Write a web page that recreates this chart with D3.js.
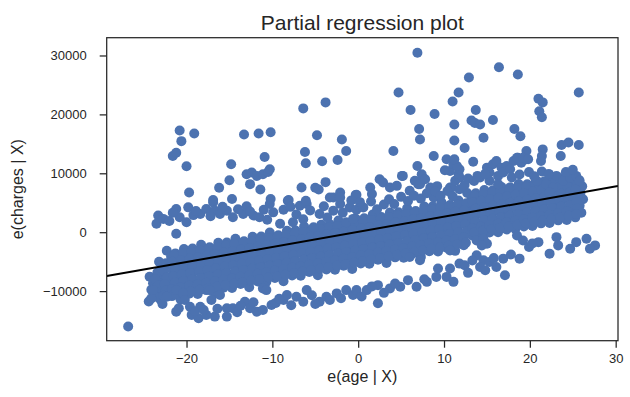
<!DOCTYPE html>
<html><head><meta charset="utf-8">
<script src="https://cdn.jsdelivr.net/npm/d3@7"></script>
<style>
html,body{margin:0;padding:0;background:#fff;}
svg{display:block;}
text{font-family:"Liberation Sans",Arial,sans-serif;fill:#262626;}
</style></head><body>
<svg id="chart" width="630" height="397"></svg>
<script>
// ---- data ----
const xTicks = [-20, -10, 0, 10, 20, 30];
const yTicks = [-10000, 0, 10000, 20000, 30000];
const xDomain = [-29.3, 30.27];
const yDomain = [-18420, 33020];
const fitX = [-29.3, 30.27];
const fitY = [-7450, 7830];

const mainBand = [
[-24.3,-7570],[-23.9,-8670],[-24.1,-9770],[-23.7,-10870],[-24.4,-11770],
[-23.2,-5010],[-22.8,-6210],[-23.1,-7310],[-22.7,-8510],[-23.4,-9610],[-22.9,-10710],[-23.0,-11510],
[-22.3,-3150],[-21.8,-4150],[-22.1,-5450],[-21.6,-6550],[-22.4,-7650],[-21.9,-8850],[-22.2,-9950],[-21.7,-10850],
[-21.3,-3600],[-20.8,-4800],[-21.1,-6100],[-20.6,-7200],[-21.4,-7700],[-20.9,-8400],[-21.2,-9500],[-20.7,-11400],
[-20.3,-2840],[-19.8,-3940],[-20.1,-5140],[-19.6,-6240],[-20.4,-7640],[-19.9,-8640],[-20.2,-9740],[-19.7,-10440],
[-19.3,-2780],[-18.8,-3980],[-19.1,-5180],[-18.6,-6280],[-19.4,-7480],[-18.9,-8580],[-19.2,-9680],[-18.7,-10480],
[-18.3,-2130],[-17.8,-3130],[-18.1,-4430],[-17.6,-5530],[-18.4,-6630],[-17.9,-7830],[-18.2,-8930],[-17.7,-9830],
[-17.3,-2570],[-16.8,-3770],[-17.1,-5070],[-16.6,-6170],[-17.4,-6670],[-16.9,-7370],[-17.2,-8470],[-16.7,-10370],
[-16.3,-1810],[-15.8,-2910],[-16.1,-4110],[-15.6,-5210],[-16.4,-6610],[-15.9,-7610],[-16.2,-8710],[-15.7,-9410],
[-15.3,-1760],[-14.8,-2960],[-15.1,-4160],[-14.6,-5260],[-15.4,-6460],[-14.9,-7560],[-15.2,-8660],[-14.7,-9460],
[-14.3,-1100],[-13.8,-2100],[-14.1,-3400],[-13.6,-4500],[-14.4,-5600],[-13.9,-6800],[-14.2,-7900],[-13.7,-8800],
[-13.3,-1540],[-12.8,-2740],[-13.1,-4040],[-12.6,-5140],[-13.4,-5640],[-12.9,-6340],[-13.2,-7440],[-12.7,-9340],
[-12.3,-780],[-11.8,-1880],[-12.1,-3080],[-11.6,-4180],[-12.4,-5580],[-11.9,-6580],[-12.2,-7680],[-11.7,-8380],
[-11.3,-730],[-10.8,-1930],[-11.1,-3130],[-10.6,-4230],[-11.4,-5430],[-10.9,-6530],[-11.2,-7630],[-10.7,-8430],
[-10.3,-70],[-9.8,-1070],[-10.1,-2370],[-9.6,-3470],[-10.4,-4570],[-9.9,-5770],[-10.2,-6870],[-9.7,-7770],
[-9.3,-510],[-8.8,-1710],[-9.1,-3010],[-8.6,-4110],[-9.4,-4610],[-8.9,-5310],[-9.2,-6410],[-8.7,-8310],
[-8.3,240],[-7.8,-860],[-8.1,-2060],[-7.6,-3160],[-8.4,-4560],[-7.9,-5560],[-8.2,-6660],[-7.7,-7360],
[-7.3,300],[-6.8,-900],[-7.1,-2100],[-6.6,-3200],[-7.4,-4400],[-6.9,-5500],[-7.2,-6600],[-6.7,-7400],
[-6.3,960],[-5.8,-40],[-6.1,-1340],[-5.6,-2440],[-6.4,-3540],[-5.9,-4740],[-6.2,-5840],[-5.7,-6740],
[-5.3,520],[-4.8,-690],[-5.1,-1990],[-4.6,-3090],[-5.4,-3590],[-4.9,-4290],[-5.2,-5390],[-4.7,-7290],
[-4.3,1270],[-3.8,170],[-4.1,-1030],[-3.6,-2130],[-4.4,-3530],[-3.9,-4530],[-4.2,-5630],[-3.7,-6330],
[-3.3,1330],[-2.8,130],[-3.1,-1070],[-2.6,-2170],[-3.4,-3370],[-2.9,-4470],[-3.2,-5570],[-2.7,-6370],
[-2.3,1990],[-1.8,990],[-2.1,-310],[-1.6,-1410],[-2.4,-2510],[-1.9,-3710],[-2.2,-4810],[-1.7,-5710],
[-1.3,1540],[-0.8,340],[-1.1,-960],[-0.6,-2060],[-1.4,-2560],[-0.9,-3260],[-1.2,-4360],[-0.7,-6260],
[-0.3,2300],[0.2,1200],[-0.1,0],[0.4,-1100],[-0.4,-2500],[0.1,-3500],[-0.2,-4600],[0.3,-5300],
[0.7,2360],[1.2,1160],[0.9,-40],[1.4,-1140],[0.6,-2340],[1.1,-3440],[0.8,-4540],[1.3,-5340],
[1.7,3010],[2.2,2010],[1.9,710],[2.4,-390],[1.6,-1490],[2.1,-2690],[1.8,-3790],[2.3,-4690],
[2.7,2570],[3.2,1370],[2.9,70],[3.4,-1030],[2.6,-1530],[3.1,-2230],[2.8,-3330],[3.3,-5230],
[3.7,3330],[4.2,2230],[3.9,1030],[4.4,-70],[3.6,-1470],[4.1,-2470],[3.8,-3570],[4.3,-4270],
[4.7,3390],[5.2,2190],[4.9,990],[5.4,-120],[4.6,-1320],[5.1,-2420],[4.8,-3520],[5.3,-4320],
[5.7,4040],[6.2,3040],[5.9,1740],[6.4,640],[5.6,-460],[6.1,-1660],[5.8,-2760],[6.3,-3660],
[6.7,3600],[7.2,2400],[6.9,1100],[7.4,0],[6.6,-500],[7.1,-1200],[6.8,-2300],[7.3,-4200],
[7.7,4360],[8.2,3260],[7.9,2060],[8.4,960],[7.6,-440],[8.1,-1440],[7.8,-2540],[8.3,-3240],
[8.7,4410],[9.2,3210],[8.9,2010],[9.4,910],[8.6,-290],[9.1,-1390],[8.8,-2490],[9.3,-3290],
[9.7,5070],[10.2,4070],[9.9,2770],[10.4,1670],[9.6,570],[10.1,-630],[9.8,-1730],[10.3,-2630],
[10.7,4630],[11.2,3430],[10.9,2130],[11.4,1030],[10.6,530],[11.1,-170],[10.8,-1270],[11.3,-3170],
[11.7,5380],[12.2,4280],[11.9,3080],[12.4,1980],[11.6,580],[12.1,-420],[11.8,-1520],[12.3,-2220],
[12.7,6640],[13.2,5540],[12.9,4540],[13.4,3440],[12.6,2340],[13.1,1340],[12.8,340],[13.3,-560],
[13.7,6600],[14.2,5400],[13.9,4300],[14.4,3200],[13.6,2100],[14.1,1100],[13.8,0],[14.3,-500],
[14.7,7160],[15.2,6060],[14.9,5060],[15.4,3960],[14.6,2860],[15.1,1860],[14.8,860],[15.3,-50],
[15.7,7110],[16.2,5910],[15.9,4810],[16.4,3710],[15.6,2610],[16.1,1610],[15.8,510],[16.3,10],
[16.7,7670],[17.2,6570],[16.9,5570],[17.4,4470],[16.6,3370],[17.1,2370],[16.8,1370],[17.3,470],
[17.7,7630],[18.2,6430],[17.9,5330],[18.4,4230],[17.6,3130],[18.1,2130],[17.8,1030],[18.3,530],
[18.7,8180],[19.2,7080],[18.9,6080],[19.4,4980],[18.6,3880],[19.1,2880],[18.8,1880],[19.3,980],
[19.7,8140],[20.2,6940],[19.9,5840],[20.4,4740],[19.6,3640],[20.1,2640],[19.8,1540],[20.3,1040],
[20.7,8700],[21.2,7600],[20.9,6600],[21.4,5500],[20.6,4400],[21.1,3400],[20.8,2400],[21.3,1500],
[21.7,8650],[22.2,7450],[21.9,6350],[22.4,5250],[21.6,4150],[22.1,3150],[21.8,2050],[22.3,1550],
[22.7,9210],[23.2,8110],[22.9,7110],[23.4,6010],[22.6,4910],[23.1,3910],[22.8,2910],[23.3,2010],
[23.7,9170],[24.2,7970],[23.9,6870],[24.4,5770],[23.6,4670],[24.1,3670],[23.8,2570],[24.3,2070],
[24.7,9000],[25.2,8620],[24.9,7620],[25.4,6520],[24.6,5420],[25.1,4420],[24.8,3420],[25.3,2520],
[25.7,8900],[26.1,7800],[25.9,6700],[26.2,5600],[25.8,4500],[26.0,3300]
];

const mainFill = [
[-23.4,-6840],[-23.65,-7940],[-23.3,-9040],[-23.55,-10140],[-23.35,-11040],
[-22.4,-5280],[-22.65,-6580],[-22.3,-7680],[-22.55,-8780],[-22.35,-9880],[-22.7,-10780],
[-21.4,-3830],[-21.65,-5030],[-21.3,-6330],[-21.55,-7430],[-21.35,-8530],[-21.7,-9630],[-21.45,-10530],
[-20.4,-3570],[-20.65,-4770],[-20.3,-6070],[-20.55,-7170],[-20.35,-8270],[-20.7,-9370],[-20.45,-10270],
[-19.4,-3310],[-19.65,-4510],[-19.3,-5810],[-19.55,-6910],[-19.35,-8010],[-19.7,-9110],[-19.45,-10010],
[-18.4,-3060],[-18.65,-4260],[-18.3,-5560],[-18.55,-6660],[-18.35,-7760],[-18.7,-8860],[-18.45,-9760],
[-17.4,-2800],[-17.65,-4000],[-17.3,-5300],[-17.55,-6400],[-17.35,-7500],[-17.7,-8600],[-17.45,-9500],
[-16.4,-2540],[-16.65,-3740],[-16.3,-5040],[-16.55,-6140],[-16.35,-7240],[-16.7,-8340],[-16.45,-9240],
[-15.4,-2280],[-15.65,-3480],[-15.3,-4780],[-15.55,-5880],[-15.35,-6980],[-15.7,-8080],[-15.45,-8980],
[-14.4,-2030],[-14.65,-3230],[-14.3,-4530],[-14.55,-5630],[-14.35,-6730],[-14.7,-7830],[-14.45,-8730],
[-13.4,-1770],[-13.65,-2970],[-13.3,-4270],[-13.55,-5370],[-13.35,-6470],[-13.7,-7570],[-13.45,-8470],
[-12.4,-1510],[-12.65,-2710],[-12.3,-4010],[-12.55,-5110],[-12.35,-6210],[-12.7,-7310],[-12.45,-8210],
[-11.4,-1260],[-11.65,-2460],[-11.3,-3760],[-11.55,-4860],[-11.35,-5960],[-11.7,-7060],[-11.45,-7960],
[-10.4,-1000],[-10.65,-2200],[-10.3,-3500],[-10.55,-4600],[-10.35,-5700],[-10.7,-6800],[-10.45,-7700],
[-9.4,-740],[-9.65,-1940],[-9.3,-3240],[-9.55,-4340],[-9.35,-5440],[-9.7,-6540],[-9.45,-7440],
[-8.4,-490],[-8.65,-1690],[-8.3,-2990],[-8.55,-4090],[-8.35,-5190],[-8.7,-6290],[-8.45,-7190],
[-7.4,-230],[-7.65,-1430],[-7.3,-2730],[-7.55,-3830],[-7.35,-4930],[-7.7,-6030],[-7.45,-6930],
[-6.4,30],[-6.65,-1170],[-6.3,-2470],[-6.55,-3570],[-6.35,-4670],[-6.7,-5770],[-6.45,-6670],
[-5.4,290],[-5.65,-910],[-5.3,-2210],[-5.55,-3310],[-5.35,-4410],[-5.7,-5510],[-5.45,-6410],
[-4.4,540],[-4.65,-660],[-4.3,-1960],[-4.55,-3060],[-4.35,-4160],[-4.7,-5260],[-4.45,-6160],
[-3.4,800],[-3.65,-400],[-3.3,-1700],[-3.55,-2800],[-3.35,-3900],[-3.7,-5000],[-3.45,-5900],
[-2.4,1060],[-2.65,-140],[-2.3,-1440],[-2.55,-2540],[-2.35,-3640],[-2.7,-4740],[-2.45,-5640],
[-1.4,1310],[-1.65,110],[-1.3,-1190],[-1.55,-2290],[-1.35,-3390],[-1.7,-4490],[-1.45,-5390],
[-0.4,1570],[-0.65,370],[-0.3,-930],[-0.55,-2030],[-0.35,-3130],[-0.7,-4230],[-0.45,-5130],
[0.6,1830],[0.35,630],[0.7,-670],[0.45,-1770],[0.65,-2870],[0.3,-3970],[0.55,-4870],
[1.6,2090],[1.35,890],[1.7,-410],[1.45,-1510],[1.65,-2610],[1.3,-3710],[1.55,-4610],
[2.6,2340],[2.35,1140],[2.7,-160],[2.45,-1260],[2.65,-2360],[2.3,-3460],[2.55,-4360],
[3.6,2600],[3.35,1400],[3.7,100],[3.45,-1000],[3.65,-2100],[3.3,-3200],[3.55,-4100],
[4.6,2860],[4.35,1660],[4.7,360],[4.45,-740],[4.65,-1840],[4.3,-2940],[4.55,-3840],
[5.6,3110],[5.35,1910],[5.7,610],[5.45,-490],[5.65,-1590],[5.3,-2690],[5.55,-3590],
[6.6,3370],[6.35,2170],[6.7,870],[6.45,-230],[6.65,-1330],[6.3,-2430],[6.55,-3330],
[7.6,3630],[7.35,2430],[7.7,1130],[7.45,30],[7.65,-1070],[7.3,-2170],[7.55,-3070],
[8.6,3890],[8.35,2690],[8.7,1390],[8.45,290],[8.65,-810],[8.3,-1910],[8.55,-2810],
[9.6,4140],[9.35,2940],[9.7,1640],[9.45,540],[9.65,-560],[9.3,-1660],[9.55,-2560],
[10.6,4400],[10.35,3200],[10.7,1900],[10.45,800],[10.65,-300],[10.3,-1400],[10.55,-2300],
[11.6,4660],[11.35,3460],[11.7,2160],[11.45,1060],[11.65,-40],[11.3,-1140],[11.55,-2040],
[12.6,4910],[12.35,3710],[12.7,2410],[12.45,1310],[12.65,210],[12.3,-890],[12.55,-1790],
[13.6,6170],[13.35,5070],[13.7,3970],[13.45,2870],[13.65,1770],[13.3,670],[13.55,-30],
[14.6,6430],[14.35,5330],[14.7,4230],[14.45,3130],[14.65,2030],[14.3,930],[14.55,230],
[15.6,6680],[15.35,5580],[15.7,4480],[15.45,3380],[15.65,2280],[15.3,1180],[15.55,480],
[16.6,6940],[16.35,5840],[16.7,4740],[16.45,3640],[16.65,2540],[16.3,1440],[16.55,740],
[17.6,7200],[17.35,6100],[17.7,5000],[17.45,3900],[17.65,2800],[17.3,1700],[17.55,1000],
[18.6,7460],[18.35,6360],[18.7,5260],[18.45,4160],[18.65,3060],[18.3,1960],[18.55,1260],
[19.6,7710],[19.35,6610],[19.7,5510],[19.45,4410],[19.65,3310],[19.3,2210],[19.55,1510],
[20.6,7970],[20.35,6870],[20.7,5770],[20.45,4670],[20.65,3570],[20.3,2470],[20.55,1770],
[21.6,8230],[21.35,7130],[21.7,6030],[21.45,4930],[21.65,3830],[21.3,2730],[21.55,2030],
[22.6,8480],[22.35,7380],[22.7,6280],[22.45,5180],[22.65,4080],[22.3,2980],[22.55,2280],
[23.6,8740],[23.35,7640],[23.7,6540],[23.45,5440],[23.65,4340],[23.3,3240],[23.55,2540],
[24.6,9000],[24.35,7900],[24.7,6800],[24.45,5700],[24.65,4600],[24.3,3500],[24.55,2800],
[25.5,8500],[25.35,7300],[25.6,6200],[25.45,5100],[25.55,4000],[25.4,3100]
];

const upperBand = [
[-23.3,2820],[-23.5,1420],[-22.7,2260],[-21.2,3950],[-19.8,4220],[-20.8,2530],[-21.2,-270],[-20.0,1690],
[-18.4,3100],[-17.7,3950],[-16.9,5060],[-16.7,3660],[-16.1,3100],[-15.3,3660],[-14.7,5630],[-14.6,2530],
[-13.4,3100],[-12.2,2820],[-11.5,2530],[-10.3,4790],[-9.9,3370],[-9.1,1420],[-8.2,5340],[-7.6,1690],
[-6.8,4500],[-6.0,4790],[-5.2,840],[-4.5,3100],[-2.9,5900],[-2.9,3660],[-2.1,4790],[-1.4,1690],[-0.6,2260],
[-16.9,5460],[-10.2,5630],[-8.1,5460],[-6.1,5340],[-2.1,6740],[-3.3,5900],[-2.1,5900],[-0.3,6300],
[-19.7,6740],[-16.2,7540],[-15.0,8830],[-6.6,7590],[-5.0,7540],[-4.6,7250],[-3.8,8500],[-11.4,7250],[-12.6,8160],
[-22.0,1900],[-21.6,3300],[-19.2,2900],[-18.9,3600],[-17.2,2700],[-15.8,4300],[-14.0,3900],[-13.0,4400],
[-12.6,3500],[-11.0,3800],[-10.6,2100],[-8.7,3800],[-7.9,4300],[-7.2,3000],[-6.4,2200],[-5.6,3700],
[-4.0,4400],[-3.6,2500],[-1.8,3300],[-1.0,4200],[-0.2,3800],
[-0.2,6360],[1.4,7590],[1.6,6470],[2.5,9000],[2.9,8430],[3.7,7590],[4.5,7870],[5.2,9560],[6.0,7030],
[7.0,8160],[7.5,9270],[8.4,7590],[8.8,5900],[5.1,9560],[6.6,8720],[7.2,8160],[7.4,9850],[7.8,9000],
[9.2,7820],[10.7,7590],[10.9,7590],[11.3,8720],[11.8,9270],[10.7,10400],[11.1,11530],[10.3,12370],
[10.1,10520],[6.9,11250],[11.7,9850],[11.8,10690],[11.5,11250],[11.2,12370],[13.4,11970],[13.9,9560],
[0.6,4200],[1.5,5200],[2.2,3900],[3.0,4700],[3.6,5600],[4.2,4800],[5.0,6000],[5.8,5300],[6.5,6200],
[7.3,5700],[8.0,6600],[9.0,6900],[9.6,6200],[10.4,7000],[11.0,6100],[11.8,7300],[12.4,8000],[0.2,5100],[-0.8,5400],
[15.0,10960],[15.7,11530],[16.1,12090],[16.7,10960],[17.3,11250],[18.1,12090],[18.6,12640],[19.0,11800],
[19.6,12370],[15.3,10120],[16.3,9560],[16.9,10120],[17.7,10690],[15.3,8720],[16.3,8160],[23.1,9560],
[23.9,8720],[24.7,9270],[25.4,9560],[25.8,8720],[20.8,8720],[21.9,8160],[22.7,7590],[22.3,6740],
[19.6,13770],[18.5,12640],[19.2,12640],[19.8,12370],[21.3,12090],[21.5,14060],[21.4,12930],[23.7,14790],
[24.5,15240],[25.7,14790],[23.6,12930],[12.4,14280],[8.8,12930],[4.1,13770],[11.2,15580],[14.6,16020],
[13.5,8700],[14.2,9300],[17.9,9300],[18.8,9800],[19.9,10200],[20.5,9500],[21.4,10300],[22.2,9900],
[24.2,10200],[25.0,10600],[14.8,9900],[12.8,9100]
];

const outliers = [
[-20.8,17260],[-19.1,16760],[-20.6,15460],[-21.6,12930],[-21.2,13490],[-20.0,11190],[-13.3,16590],
[-11.6,16760],[-10.2,16980],[-14.8,11530],[-13.0,9850],[-12.4,10120],[-11.8,9560],[-11.1,9850],
[-10.5,10230],[-10.3,10690],[-10.9,12760],[-6.4,21020],[-3.8,22040],[-4.8,16470],[-6.2,13610],
[-6.1,11700],[-4.2,12040],[-1.9,15750],[-1.4,13770],[-2.4,12260],[6.9,30470],[16.4,27990],[18.6,26760],
[12.9,26250],[4.7,23720],[11.7,23720],[11.0,22200],[25.7,23720],[21.0,22660],[21.5,22040],[21.1,20520],
[21.4,19510],[6.1,20740],[8.9,20060],[13.7,20740],[11.2,18280],[13.2,18950],[13.6,18550],[14.2,18280],
[15.7,19050],[7.1,17530],[7.2,15750],[18.2,17530],[18.9,16300],[-26.8,-16000]
];

const lowerBand = [
[-24.1,-11230],[-23.9,-9830],[-22.3,-10960],[-21.2,-13490],[-21.2,-9830],[-20.4,-10390],[-20.2,-11520],
[-19.6,-12650],[-19.4,-14040],[-18.6,-14600],[-18.4,-12650],[-17.7,-14040],[-17.3,-9830],[-17.1,-11520],
[-16.7,-14330],[-16.1,-10670],[-15.3,-12920],[-15.3,-14330],[-14.6,-12920],[-13.2,-11800],[-11.8,-13490],
[-11.1,-13200],[-11.1,-9540],[-10.7,-9830],[-10.1,-12360],[-8.7,-11520],[-8.3,-10670],[-7.2,-10960],
[-6.4,-11800],[-6.0,-9830],[-4.5,-11800],[-3.7,-10960],[-3.3,-11520],[-2.5,-10390],[-1.4,-9830],[-0.6,-10670],
[-0.2,-9830],[1.0,-9830],[2.3,-8990],[2.3,-12070],[3.7,-9540],[4.9,-9270],[5.8,-8140],[6.8,-9270],
[8.0,-8430],[9.1,-7590],[10.3,-7590],[11.1,-8430],[9.3,-6170],[10.7,-6170],[11.8,-5330],[12.4,-5610],
[13.8,-3930],[14.6,-4770],[15.3,-5060],[14.2,-5900],[14.8,-6460],[16.1,-5900],[16.9,-4490],[17.1,-7300],
[18.8,-4490],[18.5,-560],[19.2,-1400],[21.0,-1690],[22.3,-3640],[23.1,-840],[23.3,-2240],[24.7,-2800],
[25.4,-1690],[26.6,-1110],[27.6,-2240],[27.0,-2800],[13.8,-1400],[14.6,-1110],[15.0,-1960],[14.4,-2240],
[10.7,-3090],[6.0,-4210],[7.2,-4770],
[-22.8,-12200],[-20.9,-12900],[-19.0,-13400],[-18.0,-13200],[-16.4,-13000],[-14.1,-13600],[-13.7,-12500],
[-12.6,-12900],[-12.2,-11900],[-9.6,-12000],[-9.2,-11300],[-7.8,-12400],[-5.4,-10700],[-5.0,-12200],
[-2.0,-11200],[0.4,-10900],[1.6,-9200],[3.0,-10300],[4.3,-8700],[7.7,-8000],[12.8,-6900],[13.3,-4800],
[15.8,-4400],[17.8,-3800],[19.9,-2500],[20.3,-1900]
];

// ---- drawing ----
(function () {
const svg = d3.select("#chart");
const pL = 106.7, pR = 618, pT = 37.7, pB = 340.7;
const x = d3.scaleLinear().domain(xDomain).range([pL, pR]);
const y = d3.scaleLinear().domain(yDomain).range([pB, pT]);
const blue = "#4C72B0", ink = "#262626";

svg.append("defs").append("clipPath").attr("id","clip")
  .append("rect").attr("x",pL).attr("y",pT).attr("width",pR-pL).attr("height",pB-pT);

const pts = [].concat(mainBand, mainFill, upperBand, lowerBand, outliers);
svg.append("g").attr("clip-path","url(#clip)")
  .selectAll("circle").data(pts).join("circle")
  .attr("cx", d => x(d[0])).attr("cy", d => y(d[1]))
  .attr("r", 5).attr("fill", blue);

svg.append("line").attr("clip-path","url(#clip)")
  .attr("x1", x(fitX[0])).attr("y1", y(fitY[0]))
  .attr("x2", x(fitX[1])).attr("y2", y(fitY[1]))
  .attr("stroke", "#000").attr("stroke-width", 2);

const fmt = d3.format("d");
const xa = svg.append("g").attr("transform", `translate(0,${pB})`)
  .call(d3.axisBottom(x).tickValues(xTicks).tickFormat(fmt).tickSize(7).tickPadding(6).tickSizeOuter(0));
const ya = svg.append("g").attr("transform", `translate(${pL},0)`)
  .call(d3.axisLeft(y).tickValues(yTicks).tickFormat(fmt).tickSize(7).tickPadding(13).tickSizeOuter(0));
[xa, ya].forEach(g => {
  g.select(".domain").remove();
  g.selectAll("line").attr("stroke", ink).attr("stroke-width", 1.25);
  g.selectAll("text").attr("fill", ink).style("font-size", "13px")
    .style("font-family", '"Liberation Sans", Arial, sans-serif');
});

svg.append("rect").attr("x", pL).attr("y", pT)
  .attr("width", pR-pL).attr("height", pB-pT)
  .attr("fill", "none").attr("stroke", ink).attr("stroke-width", 1.25);

svg.append("text").attr("x", (pL+pR)/2).attr("y", 30)
  .attr("text-anchor","middle").style("font-size","21px").text("Partial regression plot");
svg.append("text").attr("x", (pL+pR)/2).attr("y", 382)
  .attr("text-anchor","middle").style("font-size","16px").text("e(age | X)");
svg.append("text").attr("transform", `translate(23,${(pT+pB)/2}) rotate(-90)`)
  .attr("text-anchor","middle").style("font-size","16px").text("e(charges | X)");
})();
</script>
</body></html>
